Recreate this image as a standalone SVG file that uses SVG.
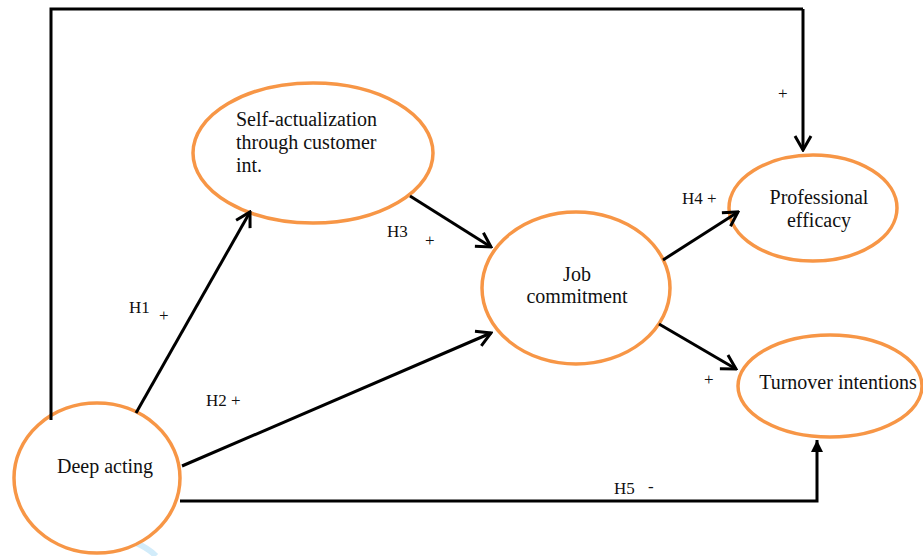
<svg xmlns="http://www.w3.org/2000/svg" width="923" height="556" viewBox="0 0 923 556">
<defs>
<marker id="open" markerUnits="userSpaceOnUse" markerWidth="20" markerHeight="20" viewBox="0 0 20 20" refX="18" refY="10" orient="auto">
<path d="M4,2 L18,10 L4,18" fill="none" stroke="#000" stroke-width="3"/>
</marker>
<marker id="solid" markerUnits="userSpaceOnUse" markerWidth="14" markerHeight="14" viewBox="0 0 14 14" refX="13" refY="7" orient="auto">
<path d="M1,1 L13,7 L1,13 Z" fill="#000"/>
</marker>
</defs>
<style>
.node ellipse{fill:#fff;stroke:#F79646;stroke-width:3.5}
text{font-family:'Liberation Serif','DejaVu Serif',serif;fill:#111}
.node text{font-size:20px}
.lab{font-size:17px}
.c{fill:none;stroke:#000;stroke-width:3}
</style>
<rect width="923" height="556" fill="#fff"/>
<path d="M136,543 Q148,548 156,556" fill="none" stroke="#D2ECFA" stroke-width="6"/>
<g id="deep-acting" class="node">
<ellipse cx="97" cy="478" rx="83" ry="75"/>
<text x="105" y="473" text-anchor="middle">Deep acting</text>
</g>
<g id="self-actualization" class="node">
<ellipse cx="313" cy="153" rx="120" ry="70"/>
<text x="236" y="126">Self-actualization</text>
<text x="236" y="149">through customer</text>
<text x="236" y="172">int.</text>
</g>
<g id="job-commitment" class="node">
<ellipse cx="576" cy="288" rx="94" ry="76"/>
<text x="577" y="281" text-anchor="middle">Job</text>
<text x="577" y="303" text-anchor="middle">commitment</text>
</g>
<g id="professional-efficacy" class="node">
<ellipse cx="813" cy="208" rx="84" ry="53"/>
<text x="819" y="204" text-anchor="middle">Professional</text>
<text x="819" y="227" text-anchor="middle">efficacy</text>
</g>
<g id="turnover-intentions" class="node">
<ellipse cx="830" cy="386" rx="92" ry="51"/>
<text x="838" y="389" text-anchor="middle">Turnover intentions</text>
</g>
<g id="connectors">
<path class="c" d="M51,420 L51,9 L803,9" stroke-width="3"/>
<path class="c" d="M803,9 L803,150" stroke-width="2" marker-end="url(#open)"/>
<line class="c" x1="136" y1="413" x2="250" y2="212" marker-end="url(#open)"/>
<line class="c" x1="182" y1="466" x2="491" y2="333" marker-end="url(#open)"/>
<line class="c" x1="410" y1="196" x2="491" y2="247" marker-end="url(#open)"/>
<line class="c" x1="663" y1="260" x2="738" y2="212" stroke-width="4" marker-end="url(#open)"/>
<line class="c" x1="659" y1="324" x2="736" y2="369" marker-end="url(#open)"/>
<path class="c" d="M180,501 L817,501 L817,440" stroke-width="3.5" marker-end="url(#solid)"/>
</g>
<g id="labels">
<text class="lab" x="129" y="313">H1</text>
<text class="lab" x="159" y="321">+</text>
<text class="lab" x="206" y="406">H2 +</text>
<text class="lab" x="387" y="237">H3</text>
<text class="lab" x="425" y="246">+</text>
<text class="lab" x="682" y="204">H4 +</text>
<text class="lab" x="704" y="385">+</text>
<text class="lab" x="614" y="494">H5</text>
<text class="lab" x="648" y="492">-</text>
<text class="lab" x="778" y="99">+</text>
</g>
</svg>
